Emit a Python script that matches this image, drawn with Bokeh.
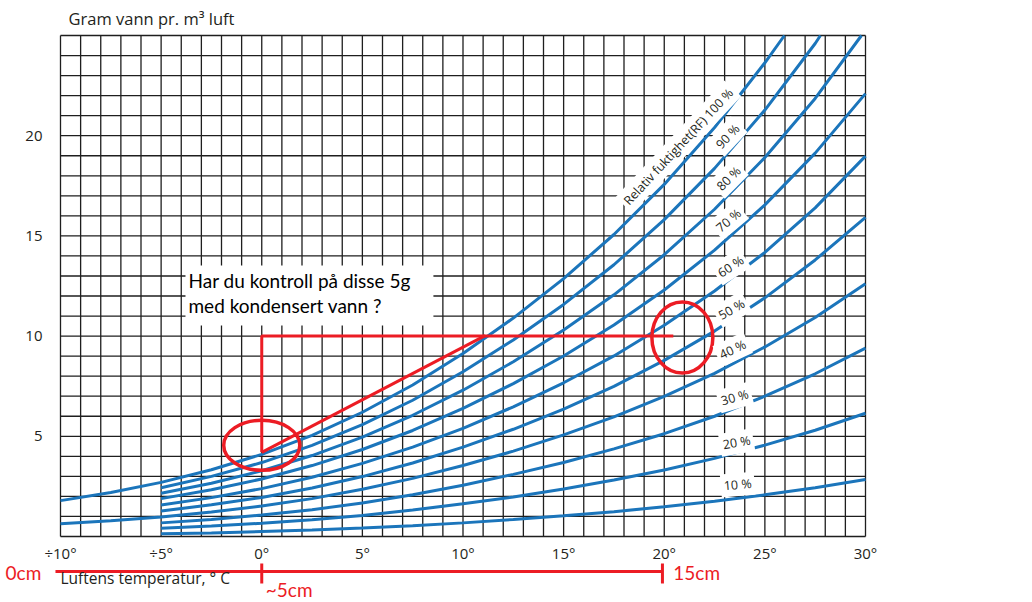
from bokeh.plotting import figure
from bokeh.models import Label, FixedTicker, Range1d
from bokeh.embed import file_html
from bokeh.resources import INLINE

# ---------------- data ----------------
temps = [-5, -2.5, 0, 2.5, 5, 7.5, 10, 12.5, 15, 17.5, 20, 22.5, 25, 27.5, 30]

rf_100_t = [-10, -7.5, -5, -2.5, 0, 2.5, 5, 7.5, 10, 12.5, 15, 17.5, 20, 22.5, 25, 25.97]
rf_100 = [1.79, 2.20, 2.70, 3.33, 4.10, 5.05, 6.20, 7.56, 9.13, 10.90, 12.87, 15.07, 17.57, 20.41, 23.64, 25.0]
rf_90_t = [-5, -2.5, 0, 2.5, 5, 7.5, 10, 12.5, 15, 17.5, 20, 22.5, 25, 27.5, 27.76]
rf_90 = [2.43, 3.00, 3.69, 4.55, 5.58, 6.80, 8.22, 9.81, 11.58, 13.56, 15.81, 18.37, 21.28, 24.60, 25.0]
rf_80_t = [-5, -2.5, 0, 2.5, 5, 7.5, 10, 12.5, 15, 17.5, 20, 22.5, 25, 27.5, 29.8]
rf_80 = [2.16, 2.66, 3.28, 4.04, 4.96, 6.05, 7.30, 8.72, 10.30, 12.06, 14.06, 16.33, 18.91, 21.86, 25.0]
rf_70 = [1.89, 2.33, 2.87, 3.54, 4.34, 5.29, 6.39, 7.63, 9.01, 10.55, 12.30, 14.29, 16.55, 19.13, 22.10]
rf_60 = [1.57, 1.94, 2.39, 2.96, 3.65, 4.46, 5.40, 6.47, 7.67, 9.01, 10.54, 12.25, 14.18, 16.40, 18.98]
rf_50 = [1.27, 1.58, 1.95, 2.42, 2.99, 3.67, 4.46, 5.35, 6.36, 7.49, 8.79, 10.25, 11.91, 13.80, 15.92]
rf_40_t = [-10, -7.5] + temps
rf_40 = [0.64, 0.79, 0.97, 1.22, 1.52, 1.89, 2.36, 2.90, 3.54, 4.26, 5.07, 5.97, 6.99, 8.14, 9.46, 10.93, 12.61]
rf_30 = [0.68, 0.85, 1.07, 1.34, 1.67, 2.08, 2.56, 3.10, 3.69, 4.37, 5.13, 6.00, 7.00, 8.12, 9.40]
rf_20 = [0.41, 0.52, 0.66, 0.83, 1.05, 1.32, 1.63, 1.97, 2.37, 2.82, 3.32, 3.90, 4.56, 5.30, 6.15]
rf_10 = [0.14, 0.18, 0.25, 0.32, 0.42, 0.54, 0.68, 0.85, 1.03, 1.24, 1.48, 1.76, 2.08, 2.43, 2.84]

x_ticks = [-10, -5, 0, 5, 10, 15, 20, 25, 30]
x_tick_labels = ["÷10°", "÷5°", "0°", "5°", "10°", "15°", "20°", "25°", "30°"]
y_ticks = [5, 10, 15, 20]
grid_x = list(range(-10, 31))
grid_y = list(range(0, 26))

curve_names = ["Relativ fuktighet(RF) 100 %", "90 %", "80 %", "70 %", "60 %", "50 %", "40 %", "30 %", "20 %", "10 %"]
label_x = [20.7, 23.15, 23.2, 23.2, 23.3, 23.35, 23.4, 23.5, 23.6, 23.65]
label_y = [19.45, 19.96, 17.86, 15.77, 13.47, 11.33, 9.33, 6.94, 4.69, 2.59]
label_angle = [47, 47, 45, 40, 33, 30, 25, 16, 10, 5]

# annotation (red) data
mark_x = [0, 0, 20.45]
mark_y = [4.2, 10, 10]
diag_x = [0, 11.1]
diag_y = [4.2, 10.02]
ell_x = [0.0, 20.9]
ell_y = [4.55, 9.93]
ell_w = [3.78, 3.03]
ell_h = [2.5, 3.54]
ruler_x0 = [-10.25, 0, 19.91]
ruler_x1 = [19.91, 0, 19.91]
ruler_y0 = [-1.746, -1.347, -1.347]
ruler_y1 = [-1.746, -2.345, -2.345]

BLUE = "#1b75bb"
RED = "#ec1c24"
INK = "#231f20"

# layout: the frame fills the whole canvas; ranges chosen so the grid sits where the original does
W, H = 1032, 602
PX_X, PX_Y = 20.125, 20.04          # pixels per degree / per gram
LEFT_PX, BOTTOM_PX = 60, 536        # canvas position of (-10, 0)
x0 = -10 - LEFT_PX / PX_X
y0 = -(H - BOTTOM_PX) / PX_Y
p = figure(width=W, height=H,
           x_range=Range1d(x0, x0 + W / PX_X), y_range=Range1d(y0, y0 + H / PX_Y),
           output_backend="svg", toolbar_location=None, min_border=0,
           min_border_left=0, min_border_right=0, min_border_top=0, min_border_bottom=0)
p.title.visible = False
p.outline_line_color = None
p.background_fill_color = "white"
p.border_fill_color = "white"
p.grid.visible = False

# axes drawn inside the frame at fixed data locations
p.xaxis.fixed_location = 0
p.yaxis.fixed_location = -10
p.xaxis.ticker = FixedTicker(ticks=x_ticks)
p.xaxis.major_label_overrides = {t: l for t, l in zip(x_ticks, x_tick_labels)}
p.yaxis.ticker = FixedTicker(ticks=y_ticks)
for ax in (p.xaxis, p.yaxis):
    ax.axis_line_color = None
    ax.major_tick_line_color = None
    ax.minor_tick_line_color = None
    ax.major_label_text_font = "Open Sans"
    ax.major_label_text_font_size = "15px"
    ax.major_label_text_color = INK
p.xaxis.major_label_standoff = 0
p.yaxis.major_label_standoff = 12

# grid
p.segment(x0=grid_x, y0=[0] * len(grid_x), x1=grid_x, y1=[25] * len(grid_x),
          line_color="#1e1e1e", line_width=1.3)
p.segment(x0=[-10] * len(grid_y), y0=grid_y, x1=[30] * len(grid_y), y1=grid_y,
          line_color="#1e1e1e", line_width=1.3)

# white text box
p.quad(left=[-3.79], right=[8.53], bottom=[10.53], top=[13.52],
       fill_color="white", line_color=None)

# curves
p.line(rf_100_t, rf_100, line_color=BLUE, line_width=3)
p.line(rf_90_t, rf_90, line_color=BLUE, line_width=3)
p.line(rf_80_t, rf_80, line_color=BLUE, line_width=3)
p.line(rf_40_t, rf_40, line_color=BLUE, line_width=3)
for ys in [rf_70, rf_60, rf_50, rf_30, rf_20, rf_10]:
    p.line(temps, ys, line_color=BLUE, line_width=3)

# curve labels
for name, lx, ly, la in zip(curve_names, label_x, label_y, label_angle):
    p.add_layout(Label(x=lx, y=ly, text=name, angle=la, angle_units="deg",
                       text_align="center", text_baseline="middle",
                       text_font="Open Sans", text_font_size="12.5px", text_color=INK,
                       background_fill_color="white", background_fill_alpha=1.0,
                       padding=3))

# red annotations
p.line(mark_x, mark_y, line_color=RED, line_width=3)
p.line(diag_x, diag_y, line_color=RED, line_width=3)
p.ellipse(x=ell_x, y=ell_y, width=ell_w, height=ell_h, fill_color=None,
          line_color=RED, line_width=3.5)
p.segment(x0=ruler_x0, y0=ruler_y0, x1=ruler_x1, y1=ruler_y1, line_color=RED, line_width=3)

# text in box
p.add_layout(Label(x=-3.64, y=12.77, text="Har du kontroll på disse 5g", text_font="Lato",
                   text_font_size="19px", text_baseline="middle", text_color="black"))
p.add_layout(Label(x=-3.64, y=11.53, text="med kondensert vann ?", text_font="Lato",
                   text_font_size="19px", text_baseline="middle", text_color="black"))

# axis titles
p.add_layout(Label(x=-9.6, y=25.85, text="Gram vann pr. m³ luft", text_font="Open Sans",
                   text_font_size="16.5px", text_baseline="middle", text_color=INK))
p.add_layout(Label(x=-10, y=-2.05, text="Luftens temperatur, ° C", text_font="Open Sans",
                   text_font_size="15.5px", text_baseline="middle", text_color=INK))

# ruler texts
p.add_layout(Label(x=-12.73, y=-1.8, text="0cm", text_font="Lato", text_font_size="19px",
                   text_baseline="middle", text_color=RED))
p.add_layout(Label(x=0.2, y=-2.64, text="~5cm", text_font="Lato", text_font_size="19px",
                   text_baseline="middle", text_color=RED))
p.add_layout(Label(x=20.45, y=-1.8, text="15cm", text_font="Lato", text_font_size="19px",
                   text_baseline="middle", text_color=RED))

open("out.html", "w").write(file_html(p, INLINE))
